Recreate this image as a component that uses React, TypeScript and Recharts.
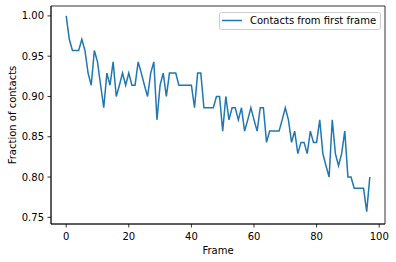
import React from 'react';
import { LineChart, Line, XAxis, YAxis, ReferenceArea } from 'recharts';

const frames: number[] = [
  0, 1, 2, 3, 4, 5, 6, 7, 8, 9,
  10, 11, 12, 13, 14, 15, 16, 17, 18, 19,
  20, 21, 22, 23, 24, 25, 26, 27, 28, 29,
  30, 31, 32, 33, 34, 35, 36, 37, 38, 39,
  40, 41, 42, 43, 44, 45, 46, 47, 48, 49,
  50, 51, 52, 53, 54, 55, 56, 57, 58, 59,
  60, 61, 62, 63, 64, 65, 66, 67, 68, 69,
  70, 71, 72, 73, 74, 75, 76, 77, 78, 79,
  80, 81, 82, 83, 84, 85, 86, 87, 88, 89,
  90, 91, 92, 93, 94, 95, 96, 97,
];

const contactFraction: number[] = [
  1.0, 0.971, 0.957, 0.957, 0.957, 0.971, 0.957, 0.929, 0.914, 0.957,
  0.943, 0.914, 0.886, 0.929, 0.914, 0.943, 0.9, 0.914, 0.929, 0.914,
  0.929, 0.914, 0.914, 0.943, 0.929, 0.914, 0.9, 0.929, 0.943, 0.871,
  0.914, 0.929, 0.9, 0.929, 0.929, 0.929, 0.914, 0.914, 0.914, 0.914,
  0.914, 0.886, 0.929, 0.929, 0.886, 0.886, 0.886, 0.886, 0.9, 0.9,
  0.857, 0.9, 0.871, 0.886, 0.886, 0.871, 0.886, 0.857, 0.871, 0.886,
  0.871, 0.857, 0.886, 0.886, 0.843, 0.857, 0.857, 0.857, 0.857, 0.871,
  0.886, 0.871, 0.843, 0.857, 0.829, 0.843, 0.843, 0.829, 0.857, 0.843,
  0.843, 0.871, 0.829, 0.814, 0.8, 0.871, 0.829, 0.814, 0.829, 0.857,
  0.8, 0.8, 0.786, 0.786, 0.786, 0.786, 0.757, 0.8,
];

const xTicks: number[] = [0, 20, 40, 60, 80, 100];
const yTicks: number[] = [0.75, 0.8, 0.85, 0.9, 0.95, 1.0];
const xDomain: [number, number] = [-4.85, 101.85];
const yDomain: [number, number] = [0.7417, 1.0123];
const seriesName = 'Contacts from first frame';
const xLabel = 'Frame';
const yLabel = 'Fraction of contacts';

const data = frames.map((f, i) => ({ frame: f, value: contactFraction[i] }));

const FONT = '"DejaVu Sans", sans-serif';
const BLUE = '#1f77b4';
const tickStyle = { fill: '#000', fontSize: 10, fontFamily: FONT };

export default function App() {
  return (
    <div style={{ position: 'absolute', left: 0, top: 0, width: 396, height: 262, background: '#fff' }}>
      <LineChart
        width={396}
        height={262}
        data={data}
        margin={{ top: 6, right: 11, left: 0, bottom: 0 }}
      >
        <XAxis
          dataKey="frame"
          type="number"
          domain={xDomain}
          ticks={xTicks}
          allowDataOverflow
          height={38}
          tickSize={3.5}
          tickMargin={5}
          tick={tickStyle}
          axisLine={{ stroke: '#000', strokeWidth: 0.8 }}
          tickLine={{ stroke: '#000', strokeWidth: 0.8 }}
        />
        <YAxis
          type="number"
          domain={yDomain}
          ticks={yTicks}
          allowDataOverflow
          width={51}
          tickSize={3.5}
          tickMargin={3.5}
          tick={tickStyle}
          tickFormatter={(v: number) => v.toFixed(2)}
          axisLine={{ stroke: '#000', strokeWidth: 0.8 }}
          tickLine={{ stroke: '#000', strokeWidth: 0.8 }}
        />
        <ReferenceArea
          x1={xDomain[0]}
          x2={xDomain[1]}
          y1={yDomain[0]}
          y2={yDomain[1]}
          fill="none"
          fillOpacity={0}
          stroke="#000"
          strokeWidth={0.8}
          strokeOpacity={1}
          ifOverflow="visible"
        />
        <Line
          type="linear"
          dataKey="value"
          name={seriesName}
          stroke={BLUE}
          strokeWidth={1.5}
          dot={false}
          isAnimationActive={false}
        />
      </LineChart>
      <svg
        width={396}
        height={262}
        style={{ position: 'absolute', left: 0, top: 0, pointerEvents: 'none' }}
      >
        <text x={218} y={254} textAnchor="middle" fontFamily={FONT} fontSize={10} fill="#000">
          {xLabel}
        </text>
        <text
          x={16}
          y={115}
          textAnchor="middle"
          fontFamily={FONT}
          fontSize={10}
          fill="#000"
          transform="rotate(-90 16 115)"
        >
          {yLabel}
        </text>
        <rect x={219.5} y={12.5} width={161} height={17} rx={2} fill="#fff" fillOpacity={0.8} stroke="#cccccc" strokeWidth={1} />
        <line x1={222} y1={20.5} x2={242} y2={20.5} stroke={BLUE} strokeWidth={1.5} />
        <text x={250} y={24} fontFamily={FONT} fontSize={10} fill="#000">
          {seriesName}
        </text>
      </svg>
    </div>
  );
}
